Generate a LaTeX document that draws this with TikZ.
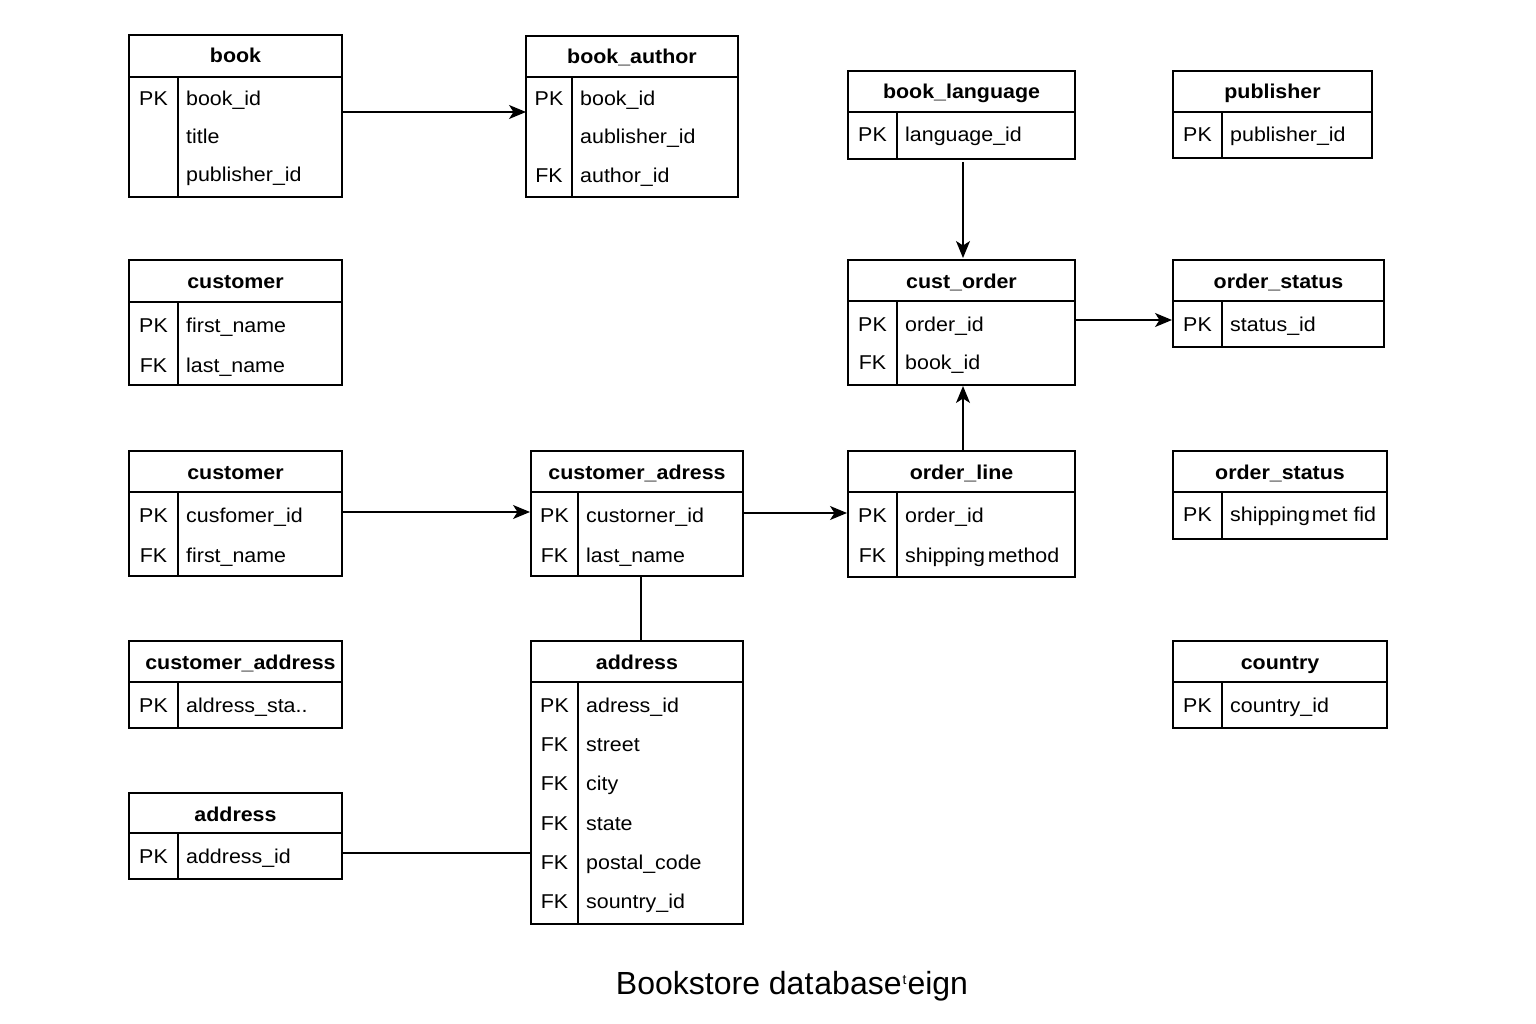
\documentclass[tikz,border=0pt]{standalone}
\usepackage{fontspec}
\setmainfont{Liberation Sans}[FakeStretch=1.07]
\newfontfamily\capfont{Liberation Sans}
\usetikzlibrary{arrows.meta}
\tikzset{
  tbox/.style={draw, line width=1.4pt, anchor=north west, inner sep=0pt, outer sep=0pt},
  ttl/.style={font=\fontsize{20}{22}\selectfont\bfseries, anchor=base, inner sep=0pt},
  fld/.style={font=\fontsize{20}{22}\selectfont, anchor=base west, inner sep=0pt},
  keytxt/.style={font=\fontsize{20}{22}\selectfont, anchor=base, inner sep=0pt},
  sepline/.style={line width=1.4pt},
  rel/.style={line width=1.4pt, -{Stealth[length=17pt,width=14pt,inset=4.5pt]}},
  link/.style={line width=1.4pt},
}
% name, x1, y1, x2, y2, header y, divider x, title
\newcommand{\ertab}[8]{%
  \node[tbox, minimum width={(#4-#2)*1pt}, minimum height={(#5-#3)*1pt}] (#1) at (#2,#3) {};
  \draw[sepline] (#2,#6) -- (#4,#6);
  \draw[sepline] (#7,#6) -- (#7,#5);
  \node[ttl] (#1-title) at ({(#2+#4)/2},{#3+28}) {#8};
}
% name, x1, divider x, baseline y, key, field
\newcommand{\errow}[6]{%
  \node[keytxt] (#1-k) at ({(#2+#3)/2},#4) {#5};
  \node[fld] (#1-f) at ({#3+8},#4) {#6};
}
\begin{document}
\begin{tikzpicture}[x=1pt,y=-1pt]
\fill[white] (0,0) rectangle (1536,1024);
\useasboundingbox (0,0) rectangle (1536,1024);

% book
\ertab{book}{129}{35}{342}{197}{77}{178}{book}
\errow{book1}{129}{178}{106}{PK}{book\_id}
\errow{book2}{129}{178}{144}{}{title}
\errow{book3}{129}{178}{182}{}{publisher\_id}

% book_author
\ertab{bookauthor}{526}{36}{738}{197}{77}{572}{book\_author}
\errow{ba1}{526}{572}{106}{PK}{book\_id}
\errow{ba2}{526}{572}{144}{}{aublisher\_id}
\errow{ba3}{526}{572}{183}{FK}{author\_id}

% book_language
\ertab{booklang}{848}{71}{1075}{159}{112}{897}{book\_language}
\errow{bl1}{848}{897}{142}{PK}{language\_id}

% publisher
\ertab{publisher}{1173}{71}{1372}{158}{112}{1222}{publisher}
\errow{pub1}{1173}{1222}{142}{PK}{publisher\_id}

% customer (1)
\ertab{customerA}{129}{260}{342}{385}{302}{178}{customer}
\errow{cA1}{129}{178}{332}{PK}{first\_name}
\errow{cA2}{129}{178}{372}{FK}{last\_name}

% cust_order
\ertab{custorder}{848}{260}{1075}{385}{301}{897}{cust\_order}
\errow{co1}{848}{897}{331}{PK}{order\_id}
\errow{co2}{848}{897}{369}{FK}{book\_id}

% order_status (1)
\ertab{orderstatusA}{1173}{260}{1384}{347}{301}{1222}{order\_status}
\errow{osA1}{1173}{1222}{331}{PK}{status\_id}

% customer (2)
\ertab{customerB}{129}{451}{342}{576}{492}{178}{customer}
\errow{cB1}{129}{178}{522}{PK}{cusfomer\_id}
\errow{cB2}{129}{178}{562}{FK}{first\_name}

% customer_adress
\ertab{custadress}{531}{451}{743}{576}{492}{578}{customer\_adress}
\errow{cad1}{531}{578}{522}{PK}{custorner\_id}
\errow{cad2}{531}{578}{562}{FK}{last\_name}

% order_line
\ertab{orderline}{848}{451}{1075}{577}{492}{897}{order\_line}
\errow{ol1}{848}{897}{522}{PK}{order\_id}
\errow{ol2}{848}{897}{562}{FK}{shipping\hspace{3pt}method}

% order_status (2)
\ertab{orderstatusB}{1173}{451}{1387}{539}{492}{1222}{order\_status}
\errow{osB1}{1173}{1222}{521}{PK}{shipping\hspace{2pt}met fid}

% customer_address
\ertab{custaddress}{129}{641}{342}{728}{682}{178}{\hspace*{10pt}customer\_address}
\errow{cadd1}{129}{178}{712}{PK}{aldress\_sta..}

% address (big)
\ertab{addressbig}{531}{641}{743}{924}{682}{578}{address}
\errow{ab1}{531}{578}{712}{PK}{adress\_id}
\errow{ab2}{531}{578}{751}{FK}{street}
\errow{ab3}{531}{578}{790}{FK}{city}
\errow{ab4}{531}{578}{830}{FK}{state}
\errow{ab5}{531}{578}{869}{FK}{postal\_code}
\errow{ab6}{531}{578}{908}{FK}{sountry\_id}

% country
\ertab{country}{1173}{641}{1387}{728}{682}{1222}{country}
\errow{cty1}{1173}{1222}{712}{PK}{country\_id}

% address (small)
\ertab{addresssmall}{129}{793}{342}{879}{833}{178}{address}
\errow{as1}{129}{178}{863}{PK}{address\_id}

% connectors
\draw[rel] (book.east |- 0,112) -- (bookauthor.west |- 0,112);
\draw[rel, shorten <=3pt, shorten >=2pt] (booklang.south -| 963,0) -- (custorder.north -| 963,0);
\draw[rel, shorten >=1pt] (custorder.east |- 0,320) -- (orderstatusA.west |- 0,320);
\draw[rel, shorten >=1pt] (customerB.east |- 0,512) -- (custadress.west |- 0,512);
\draw[rel, shorten >=1pt] (custadress.east |- 0,513) -- (orderline.west |- 0,513);
\draw[rel, shorten >=1pt] (orderline.north -| 963,0) -- (custorder.south -| 963,0);
\draw[link] (custadress.south -| 641,0) -- (addressbig.north -| 641,0);
\draw[link] (addresssmall.east |- 0,853) -- (addressbig.west |- 0,853);

% caption
\node[font=\capfont\fontsize{32}{36}\selectfont, anchor=base, inner sep=0pt] (caption) at (792,994)
  {Bookstore dat\hspace{1pt}abase\hspace{1pt}\raisebox{10pt}{\fontsize{14}{14}\selectfont t}\hspace{1pt}eign};
\end{tikzpicture}
\end{document}
